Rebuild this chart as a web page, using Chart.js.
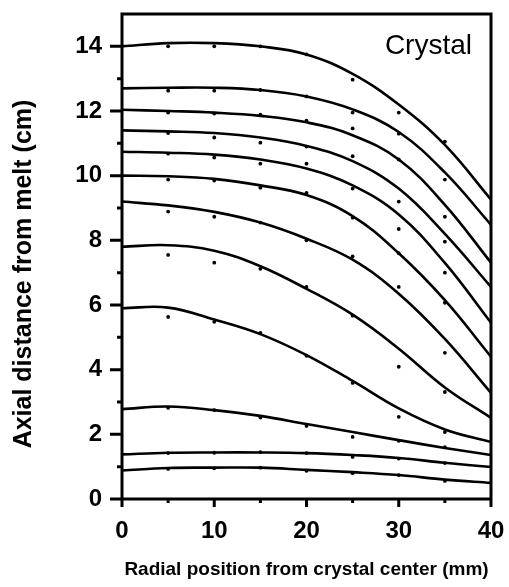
<!DOCTYPE html>
<html>
<head>
<meta charset="utf-8">
<script src="https://cdn.jsdelivr.net/npm/chart.js@4.4.1/dist/chart.umd.min.js"></script>
<style>
  html, body { margin: 0; padding: 0; background: #fff; }
  #wrap { width: 509px; height: 587px; }
</style>
</head>
<body>
<div id="wrap"><canvas id="c"></canvas></div>
<script>
// radial positions (mm) where the isotherm curves are sampled
const radialMm = [0, 5, 10, 15, 20, 25, 30, 35, 40];

// axial distance (cm) of each curve, top to bottom
const curve1 = [14.0, 14.1, 14.1, 14.0, 13.75, 13.15, 12.2, 10.95, 9.26];
const curve2 = [12.7, 12.72, 12.72, 12.65, 12.45, 12.05, 11.35, 10.1, 8.48];
const curve3 = [12.04, 12.0, 11.95, 11.85, 11.65, 11.25, 10.5, 9.1, 7.31];
const curve4 = [11.4, 11.37, 11.32, 11.18, 10.92, 10.45, 9.6, 8.2, 6.56];
const curve5 = [10.74, 10.71, 10.65, 10.5, 10.22, 9.7, 8.8, 7.3, 5.45];
const curve6 = [10.0, 9.98, 9.9, 9.7, 9.4, 8.75, 7.6, 6.15, 4.4];
const curve7 = [9.2, 9.08, 8.88, 8.55, 8.05, 7.4, 6.35, 4.95, 3.28];
const curve8 = [7.8, 7.85, 7.68, 7.2, 6.5, 5.7, 4.65, 3.45, 2.51];
const curve9 = [5.9, 5.92, 5.55, 5.1, 4.45, 3.65, 2.8, 2.15, 1.76];
const curve10 = [2.78, 2.86, 2.75, 2.57, 2.32, 2.07, 1.82, 1.58, 1.36];
const curve11 = [1.38, 1.43, 1.44, 1.44, 1.42, 1.36, 1.27, 1.12, 0.99];
const curve12 = [0.88, 0.96, 0.97, 0.97, 0.9, 0.83, 0.74, 0.6, 0.5];

// measured points, one column per radial position
const dotColumns = [5, 10, 15, 20, 25, 30, 35];
const dotsAt5 = [14.0, 12.63, 11.95, 11.32, 10.68, 9.88, 8.89, 7.55, 5.63, 2.82, 1.42, 0.93];
const dotsAt10 = [14.0, 12.63, 11.92, 11.18, 10.56, 9.85, 8.73, 7.31, 5.48, 2.75, 1.43, 0.95];
const dotsAt15 = [14.0, 12.65, 11.89, 11.02, 10.37, 9.63, 8.55, 7.12, 5.14, 2.52, 1.45, 0.97];
const dotsAt20 = [13.75, 12.45, 11.7, 10.9, 10.37, 9.47, 8.0, 6.56, 4.43, 2.26, 1.42, 0.87];
const dotsAt25 = [12.97, 11.95, 11.46, 10.6, 9.6, 8.7, 7.5, 5.67, 3.59, 1.92, 1.3, 0.8];
const dotsAt30 = [11.95, 11.3, 10.5, 9.2, 8.35, 7.6, 6.56, 4.09, 2.54, 1.8, 1.25, 0.74];
const dotsAt35 = [11.05, 9.88, 8.73, 7.96, 7.0, 6.07, 4.52, 3.31, 2.07, 1.6, 1.11, 0.56];

const xLabels = [0, 10, 20, 30, 40];
const xTickMarks = [0, 5, 10, 15, 20, 25, 30, 35, 40];
const yLabels = [0, 2, 4, 6, 8, 10, 12, 14];
const yTickMarks = [0, 1, 2, 3, 4, 5, 6, 7, 8, 9, 10, 11, 12, 13, 14];

const curves = [curve1, curve2, curve3, curve4, curve5, curve6,
                curve7, curve8, curve9, curve10, curve11, curve12];
const dotSets = [dotsAt5, dotsAt10, dotsAt15, dotsAt20, dotsAt25, dotsAt30, dotsAt35];

const lineSets = curves.map((c) => ({
  type: "line",
  data: c.map((v, i) => ({ x: radialMm[i], y: v })),
  borderColor: "#000",
  borderWidth: 2.6,
  pointRadius: 0,
  tension: 0.4,
  fill: false,
}));

const dotData = [];
dotSets.forEach((col, i) => col.forEach((v) => dotData.push({ x: dotColumns[i], y: v })));

const frame = {
  id: "frame",
  afterDraw(chart) {
    const { ctx, chartArea: a, scales } = chart;
    const x = scales.x, y = scales.y;
    ctx.save();
    ctx.strokeStyle = "#000";
    ctx.lineWidth = 3;
    ctx.beginPath();
    ctx.moveTo(a.left, a.bottom);
    ctx.lineTo(a.left, a.top);
    ctx.lineTo(a.right, a.top);
    ctx.lineTo(a.right, a.bottom);
    ctx.closePath();
    yTickMarks.forEach((v) => {
      const py = y.getPixelForValue(v);
      const len = v % 2 === 0 ? 12 : 5;
      ctx.moveTo(a.left - len, py);
      ctx.lineTo(a.left, py);
    });
    xTickMarks.forEach((v) => {
      const px = x.getPixelForValue(v);
      const len = v % 10 === 0 ? 8 : 4;
      ctx.moveTo(px, a.bottom);
      ctx.lineTo(px, a.bottom + len);
    });
    ctx.stroke();

    ctx.fillStyle = "#000";
    ctx.font = "28px 'Liberation Sans', Arial, sans-serif";
    ctx.textAlign = "right";
    ctx.textBaseline = "middle";
    ctx.fillText("Crystal", 472, 46);

    ctx.translate(24, 274);
    ctx.rotate(-Math.PI / 2);
    ctx.textAlign = "center";
    ctx.font = "bold 25px 'Liberation Sans', Arial, sans-serif";
    ctx.fillText("Axial distance from melt (cm)", 0, 0);
    ctx.restore();
  },
};

new Chart(document.getElementById("c"), {
  type: "scatter",
  data: {
    datasets: [
      ...lineSets,
      {
        type: "scatter",
        data: dotData,
        backgroundColor: "#000",
        borderColor: "#000",
        pointRadius: 1.9,
        borderWidth: 0,
      },
    ],
  },
  options: {
    responsive: true,
    maintainAspectRatio: false,
    animation: false,
    layout: { padding: { top: 14, right: 18, left: 0, bottom: 0 } },
    plugins: { legend: { display: false }, tooltip: { enabled: false } },
    scales: {
      x: {
        type: "linear",
        min: 0,
        max: 40,
        afterBuildTicks: (s) => { s.ticks = xLabels.map((v) => ({ value: v })); },
        afterFit: (s) => { s.height = 88; s.paddingLeft = 0; s.paddingRight = 0; },
        grid: { display: false, drawTicks: true, tickLength: 8 },
        border: { display: false },
        ticks: {
          color: "#000",
          padding: 10,
          maxRotation: 0,
          font: { family: "'Liberation Sans', Arial, sans-serif", size: 24, weight: "bold" },
        },
        title: {
          display: true,
          text: "Radial position from crystal center (mm)",
          color: "#000",
          padding: { top: 6, bottom: 6 },
          font: { family: "'Liberation Sans', Arial, sans-serif", size: 19, weight: "bold" },
        },
      },
      y: {
        type: "linear",
        min: 0,
        max: 15,
        afterBuildTicks: (s) => { s.ticks = yLabels.map((v) => ({ value: v })); },
        afterFit: (s) => { s.width = 122; s.paddingTop = 0; s.paddingBottom = 0; },
        grid: { display: false, drawTicks: true, tickLength: 12 },
        border: { display: false },
        ticks: {
          color: "#000",
          padding: 8,
          font: { family: "'Liberation Sans', Arial, sans-serif", size: 24, weight: "bold" },
        },
      },
    },
  },
  plugins: [frame],
});
</script>
</body>
</html>
